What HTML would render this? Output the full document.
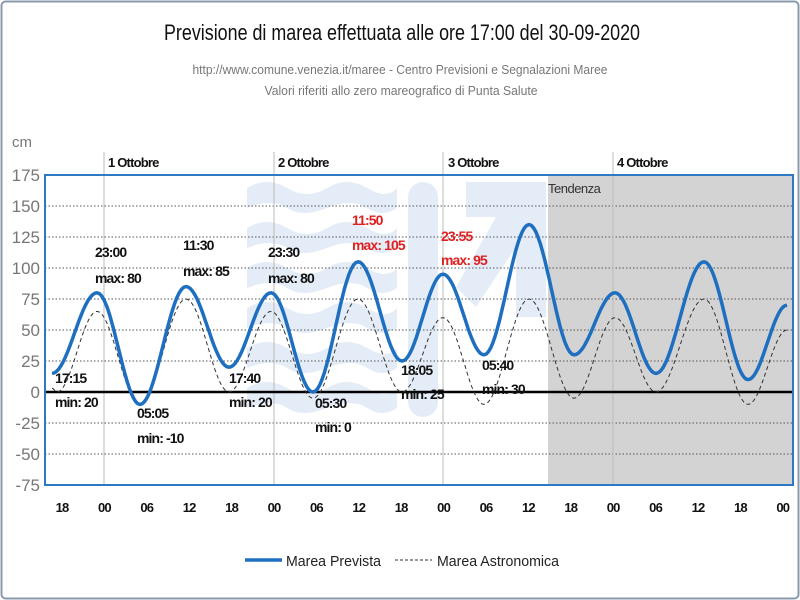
<!DOCTYPE html>
<html><head><meta charset="utf-8"><style>
html,body{margin:0;padding:0;background:#fff;}
svg{display:block;font-family:"Liberation Sans",sans-serif;}
</style></head><body>
<svg id="s" width="800" height="600" viewBox="0 0 800 600">
<rect x="1.5" y="1.5" width="797" height="597" rx="4" fill="#fff" stroke="#8a9aab" stroke-width="2"/>
<text x="402" y="40" font-size="22" text-anchor="middle" fill="#111" textLength="476" lengthAdjust="spacingAndGlyphs">Previsione di marea effettuata alle ore 17:00 del 30-09-2020</text>
<text x="400" y="74" font-size="13" text-anchor="middle" fill="#777" textLength="415" lengthAdjust="spacingAndGlyphs">http://www.comune.venezia.it/maree - Centro Previsioni e Segnalazioni Maree</text>
<text x="401" y="95" font-size="13" text-anchor="middle" fill="#777" textLength="273" lengthAdjust="spacingAndGlyphs">Valori riferiti allo zero mareografico di Punta Salute</text>
<text x="12" y="147" font-size="15" fill="#777">cm</text>
<rect x="548" y="175" width="245" height="310" fill="#d3d3d3"/>
<g fill="#e4edf7">
<path d="M247 188 q20-12 40 0 t40 0 t40 0 t30 0 v20 q-15 10-30 0 t-40 0 t-40 0 t-40 0z"/>
<path d="M247 228 q20-12 40 0 t40 0 t40 0 t30 0 v20 q-15 10-30 0 t-40 0 t-40 0 t-40 0z"/>
<path d="M247 268 q20-12 40 0 t40 0 t40 0 t30 0 v20 q-15 10-30 0 t-40 0 t-40 0 t-40 0z"/>
<path d="M247 308 q20-12 40 0 t40 0 t40 0 t30 0 v20 q-15 10-30 0 t-40 0 t-40 0 t-40 0z"/>
<path d="M247 348 q20-12 40 0 t40 0 t40 0 t30 0 v20 q-15 10-30 0 t-40 0 t-40 0 t-40 0z"/>
<path d="M247 388 q20-12 40 0 t40 0 t40 0 t30 0 v20 q-15 10-30 0 t-40 0 t-40 0 t-40 0z"/>
<rect x="408" y="182" width="30" height="235" rx="15"/>
<path d="M466 182 h80 v135 h-30 l0 -70 l-40 60 l-20 -20 l40 -70 h-30z"/>
</g>
<g id="grid" stroke="#555" stroke-width="1" stroke-dasharray="1.5,2"></g>
<g id="vl" stroke="#bbb" stroke-width="1"></g>
<line x1="45" y1="392" x2="793" y2="392" stroke="#000" stroke-width="2.5"/>
<rect x="45" y="175" width="748" height="310" fill="none" stroke="#2f78c4" stroke-width="2"/>
<g id="yl" font-size="17" fill="#777" text-anchor="end"></g>
<g id="xl" font-size="13" fill="#111" font-weight="bold" text-anchor="middle" letter-spacing="-0.8"></g>
<g font-size="13" font-weight="bold" fill="#111" letter-spacing="-0.8">
<text x="108" y="167">1 Ottobre</text><text x="278" y="167">2 Ottobre</text>
<text x="448" y="167">3 Ottobre</text><text x="617" y="167">4 Ottobre</text>
</g>
<text x="548" y="193" font-size="13" fill="#333" letter-spacing="-0.5">Tendenza</text>
<path id="astro" fill="none" stroke="#333" stroke-width="1" stroke-dasharray="4,3"/>
<path id="prev" fill="none" stroke="#1f6fc0" stroke-width="3.5"/>
<g font-size="14" font-weight="bold" fill="#111" letter-spacing="-0.9">
<text x="95" y="257">23:00</text><text x="95" y="283">max: 80</text>
<text x="183" y="250">11:30</text><text x="183" y="276">max: 85</text>
<text x="268" y="257">23:30</text><text x="268" y="283">max: 80</text>
<text x="55" y="383">17:15</text><text x="55" y="407">min: 20</text>
<text x="137" y="418">05:05</text><text x="137" y="443">min: -10</text>
<text x="229" y="383">17:40</text><text x="229" y="407">min: 20</text>
<text x="315" y="408">05:30</text><text x="315" y="432">min: 0</text>
<text x="401" y="375">18:05</text><text x="401" y="399">min: 25</text>
<text x="482" y="370">05:40</text><text x="482" y="394">min: 30</text>
<text x="352" y="225" fill="#e02020">11:50</text><text x="352" y="250" fill="#e02020">max: 105</text>
<text x="441" y="241" fill="#e02020">23:55</text><text x="441" y="265" fill="#e02020">max: 95</text>
</g>
<line x1="245" y1="560" x2="282" y2="560" stroke="#1f6fc0" stroke-width="3.5"/>
<text x="286" y="566" font-size="15" fill="#222" textLength="95" lengthAdjust="spacingAndGlyphs">Marea Prevista</text>
<line x1="395" y1="560" x2="432" y2="560" stroke="#333" stroke-width="1" stroke-dasharray="3,2"/>
<text x="437" y="566" font-size="15" fill="#222" textLength="122" lengthAdjust="spacingAndGlyphs">Marea Astronomica</text>
</svg>
<script>
var NS="http://www.w3.org/2000/svg";
function Y(v){return 392-v*1.24;}
function el(p,t,a,txt){var e=document.createElementNS(NS,t);for(var k in a)e.setAttribute(k,a[k]);if(txt!=null)e.textContent=txt;document.getElementById(p).appendChild(e);}
[150,125,100,75,50,25,-25,-50].forEach(function(v){el("grid","line",{x1:45,x2:793,y1:Y(v),y2:Y(v)});});
[175,150,125,100,75,50,25,0,-25,-50,-75].forEach(function(v){el("yl","text",{x:40,y:Y(v)+6},v);});
var lab=["18","00","06","12"];
for(var i=0;i<18;i++){var x=62+i*42.4;el("xl","text",{x:x,y:512},lab[i%4]);}
[104,274,443,613].forEach(function(x){el("vl","line",{x1:x,x2:x,y1:152,y2:485});});
function path(id,pts){var d="M"+pts[0][0]+" "+Y(pts[0][1]);
for(var i=0;i<pts.length-1;i++){var a=pts[i],b=pts[i+1];for(var s=1;s<=20;s++){var f=s/20,x=a[0]+(b[0]-a[0])*f,v=a[1]+(b[1]-a[1])*(1-Math.cos(Math.PI*f))/2;d+=" L"+x.toFixed(1)+" "+Y(v).toFixed(1);}}
document.getElementById(id).setAttribute("d",d);}
path("prev",[[52,15],[97,80],[140,-10],[186,85],[229,20],[271,80],[313,0],[358,105],[402,25],[443,95],[484,30],[529,135],[574,30],[615,80],[656,15],[704,105],[748,10],[787,70]]);
path("astro",[[52,3],[57,0],[97,65],[140,-10],[186,75],[229,0],[271,65],[313,-5],[358,75],[402,0],[443,60],[484,-10],[529,75],[574,-5],[615,60],[656,0],[704,75],[748,-10],[787,50]]);
</script>
</body></html>
